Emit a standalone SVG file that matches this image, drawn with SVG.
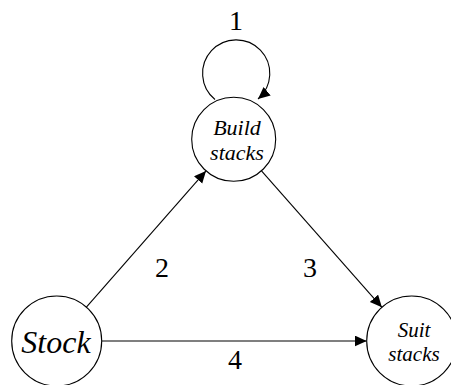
<svg xmlns="http://www.w3.org/2000/svg" width="451" height="385" viewBox="0 0 451 385">
<style>
.node{fill:#fff;stroke:#000;stroke-width:1.1}
.lbl{font-family:'Liberation Serif','DejaVu Serif',serif;font-style:italic;text-anchor:middle;fill:#000}
.num{font-family:'Liberation Serif','DejaVu Serif',serif;font-size:28px;text-anchor:middle;fill:#000}
.edge{fill:none;stroke:#000;stroke-width:1.1}
</style>
<defs>
<marker id="arr" markerUnits="userSpaceOnUse" markerWidth="13" markerHeight="12" refX="12" refY="5.5" orient="auto">
<path d="M0,0 L12,5.5 L0,11 z" fill="#000"/>
</marker>
</defs>
<g id="connectors">
<path class="edge" d="M215,99.5 A33.6,33.6 0 1 1 258,99" marker-end="url(#arr)"/>
<line class="edge" x1="86.4" y1="307.2" x2="206" y2="170.9" marker-end="url(#arr)"/>
<line class="edge" x1="261.5" y1="170.8" x2="381.9" y2="307.3" marker-end="url(#arr)"/>
<line class="edge" x1="101.7" y1="341" x2="366.7" y2="341" marker-end="url(#arr)"/>
<text class="num" x="236" y="30">1</text>
<text class="num" x="162" y="277">2</text>
<text class="num" x="310" y="277">3</text>
<text class="num" x="235" y="369">4</text>
</g>
<g id="build">
<circle class="node" cx="233.7" cy="139.3" r="42"/>
<text class="lbl" x="237" y="135" font-size="22">Build</text>
<text class="lbl" x="237" y="160" font-size="22">stacks</text>
</g>
<g id="stock">
<circle class="node" cx="56.7" cy="341" r="45"/>
<text class="lbl" x="56" y="353" font-size="32">Stock</text>
</g>
<g id="suit">
<circle class="node" cx="411.7" cy="341" r="45"/>
<text class="lbl" x="414" y="337" font-size="21">Suit</text>
<text class="lbl" x="414" y="361" font-size="21">stacks</text>
</g>
</svg>
